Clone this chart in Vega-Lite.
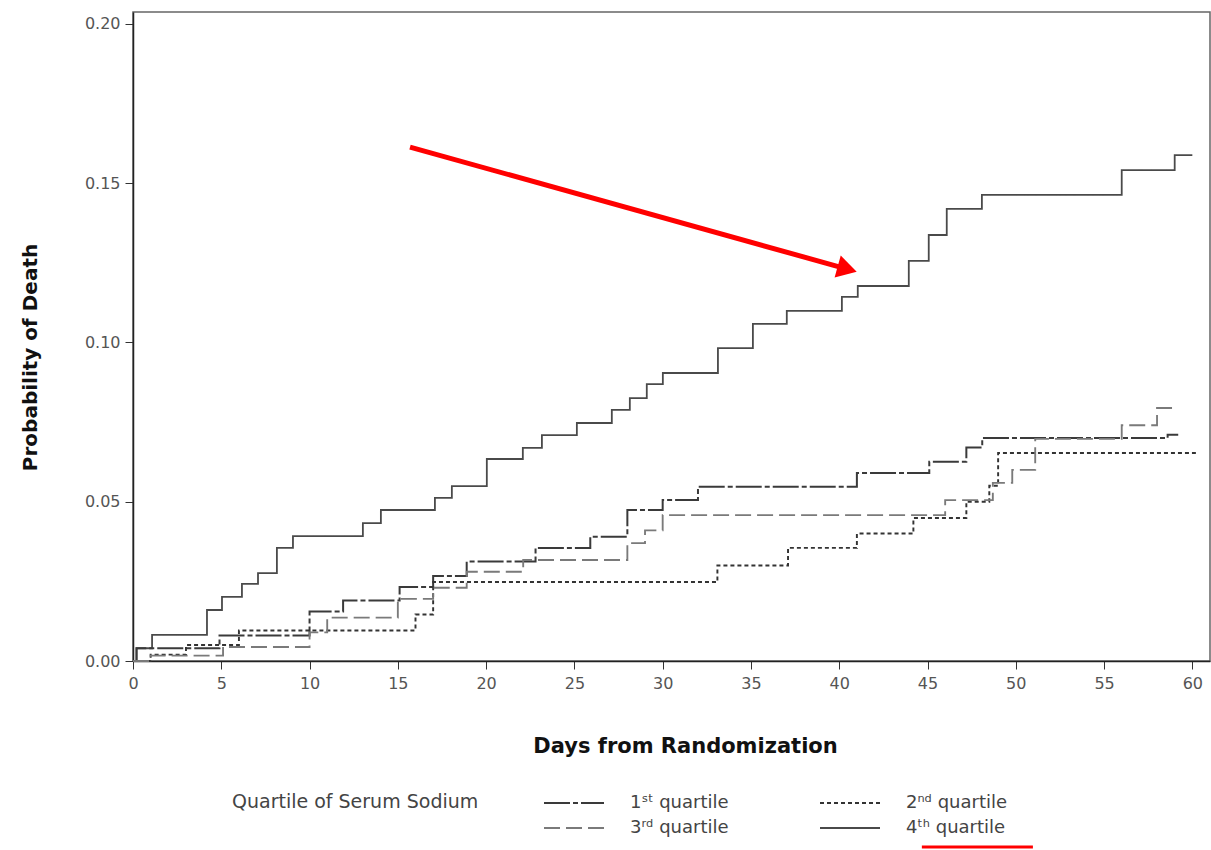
{
  "$schema": "https://vega.github.io/schema/vega-lite/v6.json",
  "width": 1077,
  "height": 649,
  "autosize": "none",
  "padding": {"left": 133, "top": 12, "right": 1, "bottom": 189},
  "background": "white",
  "config": {
    "view": {"stroke": "#666", "strokeWidth": 1.5},
    "font": "DejaVu Sans",
    "axis": {"grid": false, "domainColor": "#222", "domainWidth": 1.5, "tickColor": "#333", "tickSize": 8, "labelFont": "DejaVu Sans", "labelFontSize": 16, "labelColor": "#555", "titleFont": "DejaVu Sans", "titleFontSize": 20, "titleFontWeight": "bold", "titleColor": "#111"}
  },
  "datasets": {
    "km": [
      {"quartile": "4ᵗʰ quartile", "day": 0, "p": 0},
      {"quartile": "4ᵗʰ quartile", "day": 0.2, "p": 0.004},
      {"quartile": "4ᵗʰ quartile", "day": 1.08, "p": 0.0082},
      {"quartile": "4ᵗʰ quartile", "day": 4.19, "p": 0.016},
      {"quartile": "4ᵗʰ quartile", "day": 5.04, "p": 0.0201},
      {"quartile": "4ᵗʰ quartile", "day": 6.17, "p": 0.0242},
      {"quartile": "4ᵗʰ quartile", "day": 7.08, "p": 0.0276},
      {"quartile": "4ᵗʰ quartile", "day": 8.15, "p": 0.0355},
      {"quartile": "4ᵗʰ quartile", "day": 9.06, "p": 0.0392},
      {"quartile": "4ᵗʰ quartile", "day": 13.02, "p": 0.0433},
      {"quartile": "4ᵗʰ quartile", "day": 14.04, "p": 0.0474},
      {"quartile": "4ᵗʰ quartile", "day": 17.1, "p": 0.0512},
      {"quartile": "4ᵗʰ quartile", "day": 18.06, "p": 0.0549},
      {"quartile": "4ᵗʰ quartile", "day": 20.04, "p": 0.0634},
      {"quartile": "4ᵗʰ quartile", "day": 22.08, "p": 0.0669},
      {"quartile": "4ᵗʰ quartile", "day": 23.16, "p": 0.0709},
      {"quartile": "4ᵗʰ quartile", "day": 25.14, "p": 0.0747},
      {"quartile": "4ᵗʰ quartile", "day": 27.12, "p": 0.0788},
      {"quartile": "4ᵗʰ quartile", "day": 28.14, "p": 0.0825},
      {"quartile": "4ᵗʰ quartile", "day": 29.1, "p": 0.0869},
      {"quartile": "4ᵗʰ quartile", "day": 30.01, "p": 0.0904},
      {"quartile": "4ᵗʰ quartile", "day": 33.13, "p": 0.0982},
      {"quartile": "4ᵗʰ quartile", "day": 35.11, "p": 0.1058},
      {"quartile": "4ᵗʰ quartile", "day": 37.03, "p": 0.1099},
      {"quartile": "4ᵗʰ quartile", "day": 40.15, "p": 0.1143},
      {"quartile": "4ᵗʰ quartile", "day": 41.05, "p": 0.1177},
      {"quartile": "4ᵗʰ quartile", "day": 43.94, "p": 0.1256},
      {"quartile": "4ᵗʰ quartile", "day": 45.07, "p": 0.1337},
      {"quartile": "4ᵗʰ quartile", "day": 46.09, "p": 0.1419},
      {"quartile": "4ᵗʰ quartile", "day": 48.08, "p": 0.1463},
      {"quartile": "4ᵗʰ quartile", "day": 56.0, "p": 0.1541},
      {"quartile": "4ᵗʰ quartile", "day": 59.0, "p": 0.1588},
      {"quartile": "4ᵗʰ quartile", "day": 60.0, "p": 0.1588},

      {"quartile": "1ˢᵗ quartile", "day": 0, "p": 0},
      {"quartile": "1ˢᵗ quartile", "day": 0.2, "p": 0.004},
      {"quartile": "1ˢᵗ quartile", "day": 4.9, "p": 0.008},
      {"quartile": "1ˢᵗ quartile", "day": 10.0, "p": 0.0155},
      {"quartile": "1ˢᵗ quartile", "day": 11.9, "p": 0.019},
      {"quartile": "1ˢᵗ quartile", "day": 15.1, "p": 0.0232},
      {"quartile": "1ˢᵗ quartile", "day": 17.0, "p": 0.0267},
      {"quartile": "1ˢᵗ quartile", "day": 18.9, "p": 0.0312},
      {"quartile": "1ˢᵗ quartile", "day": 22.8, "p": 0.0355},
      {"quartile": "1ˢᵗ quartile", "day": 25.9, "p": 0.039},
      {"quartile": "1ˢᵗ quartile", "day": 28.0, "p": 0.0474},
      {"quartile": "1ˢᵗ quartile", "day": 30.0, "p": 0.0505},
      {"quartile": "1ˢᵗ quartile", "day": 32.0, "p": 0.0547},
      {"quartile": "1ˢᵗ quartile", "day": 41.0, "p": 0.059},
      {"quartile": "1ˢᵗ quartile", "day": 45.1, "p": 0.0625},
      {"quartile": "1ˢᵗ quartile", "day": 47.2, "p": 0.067},
      {"quartile": "1ˢᵗ quartile", "day": 48.1, "p": 0.070},
      {"quartile": "1ˢᵗ quartile", "day": 58.6, "p": 0.071},
      {"quartile": "1ˢᵗ quartile", "day": 59.2, "p": 0.071},

      {"quartile": "2ⁿᵈ quartile", "day": 0, "p": 0},
      {"quartile": "2ⁿᵈ quartile", "day": 1.0, "p": 0.002},
      {"quartile": "2ⁿᵈ quartile", "day": 3.0, "p": 0.005},
      {"quartile": "2ⁿᵈ quartile", "day": 6.0, "p": 0.0096},
      {"quartile": "2ⁿᵈ quartile", "day": 16.0, "p": 0.0146},
      {"quartile": "2ⁿᵈ quartile", "day": 17.0, "p": 0.0248},
      {"quartile": "2ⁿᵈ quartile", "day": 33.1, "p": 0.030},
      {"quartile": "2ⁿᵈ quartile", "day": 37.1, "p": 0.0355},
      {"quartile": "2ⁿᵈ quartile", "day": 41.0, "p": 0.040},
      {"quartile": "2ⁿᵈ quartile", "day": 44.2, "p": 0.0449},
      {"quartile": "2ⁿᵈ quartile", "day": 47.2, "p": 0.050},
      {"quartile": "2ⁿᵈ quartile", "day": 48.5, "p": 0.055},
      {"quartile": "2ⁿᵈ quartile", "day": 49.0, "p": 0.0653},
      {"quartile": "2ⁿᵈ quartile", "day": 60.2, "p": 0.0653},

      {"quartile": "3ʳᵈ quartile", "day": 0, "p": 0},
      {"quartile": "3ʳᵈ quartile", "day": 1.0, "p": 0.0017},
      {"quartile": "3ʳᵈ quartile", "day": 5.1, "p": 0.0044},
      {"quartile": "3ʳᵈ quartile", "day": 10.0, "p": 0.009},
      {"quartile": "3ʳᵈ quartile", "day": 11.0, "p": 0.0136},
      {"quartile": "3ʳᵈ quartile", "day": 15.0, "p": 0.0195},
      {"quartile": "3ʳᵈ quartile", "day": 17.0, "p": 0.023},
      {"quartile": "3ʳᵈ quartile", "day": 18.9, "p": 0.028},
      {"quartile": "3ʳᵈ quartile", "day": 22.1, "p": 0.0317},
      {"quartile": "3ʳᵈ quartile", "day": 28.0, "p": 0.037},
      {"quartile": "3ʳᵈ quartile", "day": 29.0, "p": 0.041},
      {"quartile": "3ʳᵈ quartile", "day": 30.0, "p": 0.0458},
      {"quartile": "3ʳᵈ quartile", "day": 46.0, "p": 0.0505},
      {"quartile": "3ʳᵈ quartile", "day": 48.7, "p": 0.0559},
      {"quartile": "3ʳᵈ quartile", "day": 49.8, "p": 0.060},
      {"quartile": "3ʳᵈ quartile", "day": 51.1, "p": 0.0697},
      {"quartile": "3ʳᵈ quartile", "day": 56.0, "p": 0.074},
      {"quartile": "3ʳᵈ quartile", "day": 58.0, "p": 0.0794},
      {"quartile": "3ʳᵈ quartile", "day": 59.0, "p": 0.0794}
    ],
    "arrow": [
      {"day": 15.69, "p": 0.1613, "day2": 40.2, "p2": 0.1234}
    ],
    "head": [
      {"day": 40.45, "p": 0.123}
    ],
    "underline": [
      {"day": 44.68, "p": -0.0584, "day2": 50.97}
    ]
  },
  "layer": [
    {
      "data": {"name": "km"},
      "mark": {"type": "line", "interpolate": "step-after"},
      "encoding": {
        "x": {
          "field": "day", "type": "quantitative",
          "scale": {"domain": [0, 61], "nice": false, "zero": false},
          "axis": {"title": "Days from Randomization", "titleFontSize": 21, "titleX": 552, "values": [0, 5, 10, 15, 20, 25, 30, 35, 40, 45, 50, 55, 60], "labelPadding": 6, "titlePadding": 44, "labelFlush": false}
        },
        "y": {
          "field": "p", "type": "quantitative",
          "scale": {"domain": [0, 0.2037], "nice": false},
          "axis": {"title": "Probability of Death", "titleY": 345, "values": [0, 0.05, 0.1, 0.15, 0.2], "format": ".2f", "labelPadding": 5, "titlePadding": 44, "labelFlush": false}
        },
        "color": {
          "field": "quartile", "type": "nominal",
          "scale": {"domain": ["1ˢᵗ quartile", "2ⁿᵈ quartile", "3ʳᵈ quartile", "4ᵗʰ quartile"], "range": ["#3a3a3a", "#333333", "#7a7a7a", "#4a4a4a"]},
          "legend": {
            "title": "Quartile of Serum Sodium",
            "orient": "none", "legendX": 99, "legendY": 775,
            "direction": "horizontal", "columns": 2,
            "titleOrient": "left", "titleAnchor": "start", "titleBaseline": "line-top", "titleLineHeight": 30, "titleLimit": 400,
            "titleFontWeight": "normal", "titleFontSize": 19, "titleColor": "#444", "titlePadding": 79, "titleFont": "DejaVu Sans",
            "labelFontSize": 18, "labelColor": "#444", "labelFont": "DejaVu Sans", "labelOffset": 40,
            "symbolType": "M-2,0H2", "symbolSize": 900, "columnPadding": 87, "rowPadding": -3
          }
        },
        "strokeDash": {
          "field": "quartile", "type": "nominal",
          "scale": {"domain": ["1ˢᵗ quartile", "2ⁿᵈ quartile", "3ʳᵈ quartile", "4ᵗʰ quartile"], "range": [[26, 3, 5, 3], [4, 3], [16, 6], [1, 0]]}
        },
        "strokeWidth": {
          "field": "quartile", "type": "nominal",
          "scale": {"domain": ["1ˢᵗ quartile", "2ⁿᵈ quartile", "3ʳᵈ quartile", "4ᵗʰ quartile"], "range": [2, 1.8, 2.6, 2.4]}
        }
      }
    },
    {
      "data": {"name": "arrow"},
      "mark": {"type": "rule", "color": "#ff0000", "strokeWidth": 5, "clip": false},
      "encoding": {
        "x": {"field": "day", "type": "quantitative"},
        "y": {"field": "p", "type": "quantitative"},
        "x2": {"field": "day2"},
        "y2": {"field": "p2"}
      }
    },
    {
      "data": {"name": "head"},
      "mark": {"type": "point", "shape": "triangle-right", "filled": true, "color": "#ff0000", "opacity": 1, "size": 520, "angle": 15.6, "clip": false},
      "encoding": {
        "x": {"field": "day", "type": "quantitative"},
        "y": {"field": "p", "type": "quantitative"}
      }
    },
    {
      "data": {"name": "underline"},
      "mark": {"type": "rule", "color": "#ff0000", "strokeWidth": 3, "clip": false},
      "encoding": {
        "x": {"field": "day", "type": "quantitative"},
        "x2": {"field": "day2"},
        "y": {"field": "p", "type": "quantitative"}
      }
    }
  ]
}
